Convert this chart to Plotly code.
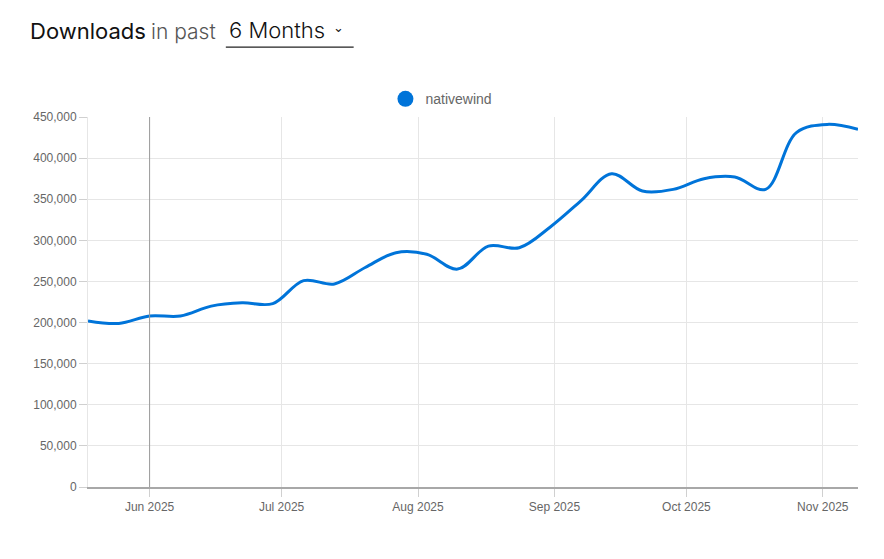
import plotly.graph_objects as go
import pandas as pd

# weekly download counts
weeks = pd.date_range("2025-05-18", "2025-11-09", freq="7D")
downloads = [202000, 199000, 208000, 208000, 220000, 224000, 223000, 251000,
             247000, 267000, 285000, 283000, 265000, 293000, 291000, 316000,
             348000, 381000, 360000, 362000, 375000, 377000, 362000, 431000,
             441000, 435000]
month_ticks = ["2025-06-01", "2025-07-01", "2025-08-01", "2025-09-01",
               "2025-10-01", "2025-11-01"]
y_ticks = list(range(0, 450001, 50000))

BLUE = "#0074D9"

fig = go.Figure()

fig.add_trace(go.Scatter(
    x=weeks, y=downloads,
    mode="lines",
    line=dict(color=BLUE, width=3, shape="spline", smoothing=1),
    showlegend=False,
    hoverinfo="skip",
))

# legend entry drawn as a big dot
fig.add_trace(go.Scatter(
    x=[None], y=[None],
    mode="markers",
    marker=dict(color=BLUE, size=20),
    name="nativewind",
))

# crosshair line
fig.add_vline(x="2025-06-01", line=dict(color="#9a9a9a", width=1), layer="above")

# header text
fig.add_annotation(text="Downloads", xref="paper", yref="paper",
                   x=-0.078, y=1.232, xanchor="left", yanchor="middle",
                   showarrow=False,
                   font=dict(family="Inter", size=22, color="#111", weight=400))
fig.add_annotation(text="in past", xref="paper", yref="paper",
                   x=0.0795, y=1.232, xanchor="left", yanchor="middle",
                   showarrow=False,
                   font=dict(family="Inter", size=21, color="#555", weight=300))
fig.add_annotation(text="6 Months", xref="paper", yref="paper",
                   x=0.1805, y=1.234, xanchor="left", yanchor="middle",
                   showarrow=False,
                   font=dict(family="Inter", size=22, color="#111", weight=300))
fig.add_annotation(text="⌄", xref="paper", yref="paper",
                   x=0.316, y=1.242, xanchor="left", yanchor="middle",
                   showarrow=False,
                   font=dict(family="DejaVu Sans", size=13, color="#111"))
fig.add_shape(type="line", xref="paper", yref="paper",
              x0=0.179, x1=0.345, y0=1.189, y1=1.189,
              line=dict(color="#222", width=1.2))

# page body adds an 8px offset, so the figure is a little smaller
fig.update_layout(
    width=876, height=551,
    margin=dict(l=80, r=26, t=109, b=72),
    plot_bgcolor="white",
    paper_bgcolor="white",
    font=dict(family="Liberation Sans", size=12, color="#666"),
    legend=dict(orientation="h", x=0.459, y=1.048, xanchor="center",
                yanchor="middle", font=dict(size=14, color="#666"),
                itemsizing="trace"),
)

fig.update_xaxes(
    range=[weeks[0], weeks[-1]],
    tickvals=month_ticks,
    tickformat="%b %Y",
    showgrid=True, gridcolor="#e6e6e6", gridwidth=1,
    showline=True, linecolor="#a8a8a8", linewidth=1.5,
    ticks="outside", ticklen=8, tickcolor="#d0d0d0",
    tickfont=dict(size=12, color="#666"),
    zeroline=False,
)
fig.update_yaxes(
    range=[0, 450000],
    tickvals=y_ticks,
    tickformat=",d",
    showgrid=True, gridcolor="#e6e6e6", gridwidth=1,
    showline=True, linecolor="#e6e6e6", linewidth=1,
    ticks="outside", ticklen=8, tickcolor="#d0d0d0",
    tickfont=dict(size=12, color="#666"),
    zeroline=False,
)

fig.write_html("out.html")
